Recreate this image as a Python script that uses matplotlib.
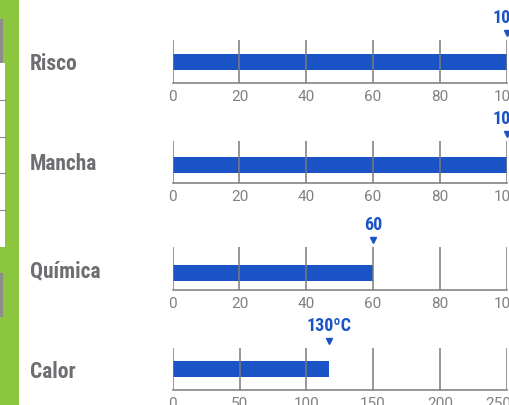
import matplotlib
matplotlib.use("Agg")
import matplotlib.pyplot as plt
from matplotlib import font_manager
from matplotlib.transforms import offset_copy, blended_transform_factory

# ---- data ----
categories = ["Risco", "Mancha", "Química", "Calor"]
values = [100, 100, 60, 117]
value_labels = ["100", "100", "60", "130ºC"]
axis_max = [100, 100, 100, 250]
tick_values = [
    [0, 20, 40, 60, 80, 100],
    [0, 20, 40, 60, 80, 100],
    [0, 20, 40, 60, 80, 100],
    [0, 50, 100, 150, 200, 250],
]
tick_labels = [
    ["0", "20", "40", "60", "80", "100"],
    ["0", "20", "40", "60", "80", "100"],
    ["0", "20", "40", "60", "80", "100"],
    ["0", "50", "100", "150", "200", "250ºC"],
]

# ---- styling / layout ----
W, H = 510, 405
installed = {f.name for f in font_manager.fontManager.ttflist}
def pick(*names):
    for n in names:
        if n in installed:
            return n
    return "DejaVu Sans"
cond_font = pick("Liberation Sans Narrow", "Roboto Condensed", "DejaVu Sans Condensed", "Roboto")
tick_font = pick("Roboto", "Liberation Sans", "DejaVu Sans")

BLUE = "#1a53c5"
GREY_TXT = "#6d6e71"
GRID = "#7a7a7a"
GREEN = "#8cc63f"

panel_tops = [40, 141, 247, 348]
panel_bots = [83, 183, 290, 390]
bar_tops = [54, 157, 265, 361]
bar_bots = [70, 173, 281, 377]
x_left, x_right = 172.7, 506.7
label_x = 30

fig = plt.figure(figsize=(W / 100, H / 100), dpi=100)
fig.patch.set_facecolor("white")

# decorative left band
band = fig.add_axes([0, 0, 19 / W, 1])
band.set_axis_off()
band.set_xlim(0, 19); band.set_ylim(H, 0)
band.add_patch(plt.Rectangle((0, 0), 19, H, color=GREEN, lw=0))
band.add_patch(plt.Rectangle((0, 19), 3.5, 44, color="#8c8c8c", lw=0))
band.add_patch(plt.Rectangle((0, 63), 5, 184, color="white", lw=0))
for yy in [100, 137, 173, 210]:
    band.plot([0, 5], [yy, yy], color="#8c8c8c", lw=0.8)
band.add_patch(plt.Rectangle((0, 273), 3.5, 44, color="#8c8c8c", lw=0))

for i, cat in enumerate(categories):
    t, b = panel_tops[i], panel_bots[i]
    ax = fig.add_axes([x_left / W, 1 - b / H, (x_right - x_left) / W, (b - t) / H])
    ax.set_xlim(0, axis_max[i])
    ax.set_ylim(b, t)
    ax.barh((bar_tops[i] + bar_bots[i]) / 2, values[i], height=bar_bots[i] - bar_tops[i],
            color=BLUE, left=0, zorder=2)
    for tv in tick_values[i]:
        ax.axvline(tv, color=GRID, lw=1.1, zorder=3)
    for s in ["top", "left", "right"]:
        ax.spines[s].set_visible(False)
    ax.spines["bottom"].set_color(GRID)
    ax.spines["bottom"].set_linewidth(1.1)
    ax.set_yticks([])
    ax.set_xticks(tick_values[i])
    ax.set_xticklabels(tick_labels[i], fontfamily=tick_font, fontsize=11, color="#808080")
    ax.tick_params(axis="x", length=0, pad=5)
    for lab in ax.get_xticklabels():
        lab.set_clip_on(False)

    trans = blended_transform_factory(ax.transData, ax.transAxes)
    tri_t = offset_copy(trans, fig=fig, x=0, y=7, units="dots")
    ax.plot([values[i]], [1], marker="v", markersize=4.6, color=BLUE,
            transform=tri_t, clip_on=False, zorder=5)
    txt_t = offset_copy(trans, fig=fig, x=0, y=13, units="dots")
    ax.text(values[i], 1, value_labels[i], transform=txt_t, ha="center", va="bottom",
            fontfamily=cond_font, fontweight="bold", fontsize=13, color=BLUE, clip_on=False)

    fig.text(label_x / W, 1 - ((t + b) / 2 + 2.5) / H, cat, ha="left", va="center",
             fontfamily=cond_font, fontweight="bold", fontsize=15.5, color=GREY_TXT)

fig.savefig("out.png", dpi=100)
